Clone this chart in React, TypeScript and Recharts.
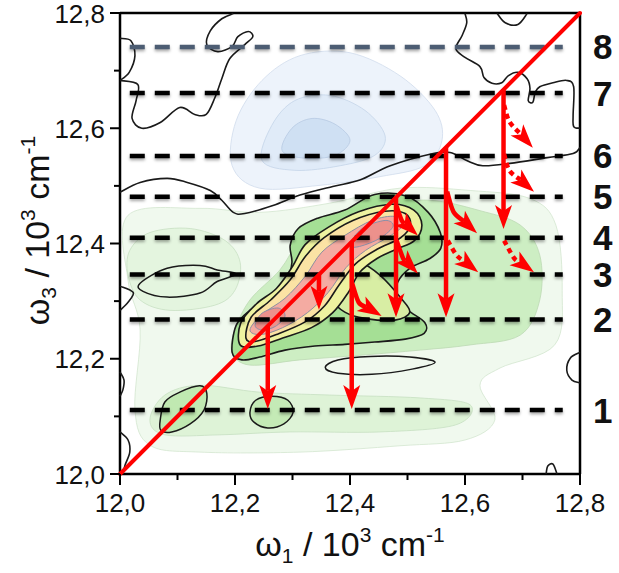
import { Scatter, ScatterChart, XAxis, YAxis } from 'recharts'

type Pair = [number, number]
type Px = { x: number; y: number }

const FONT = '"Liberation Sans", Arial, sans-serif'
const RED = '#ff0000'
const INK = '#1a1a1a'

// axis ticks (every 0.1, labelled every 0.2)
const axisTicks = [12, 12.1, 12.2, 12.3, 12.4, 12.5, 12.6, 12.7, 12.8]

// horizontal dashed levels and their names
const levelNames = ['1', '2', '3', '4', '5', '6', '7', '8']
const levelValues = [12.111, 12.268, 12.346, 12.41, 12.481, 12.552, 12.661, 12.741]
const levelSpan: Pair = [12.017, 12.77]

const diagonal: Pair[] = [[12, 12], [12.8, 12.8]]

// filled contour levels (omega1, omega3)
const greenHaze: Pair[] = [
  [12.014, 12.449], [12.139, 12.461], [12.243, 12.454], [12.365, 12.47], [12.487, 12.496],
  [12.609, 12.492], [12.713, 12.478], [12.758, 12.432], [12.769, 12.319], [12.756, 12.224],
  [12.661, 12.184], [12.626, 12.154], [12.652, 12.094], [12.6, 12.059], [12.487, 12.049],
  [12.313, 12.038], [12.139, 12.038], [12.052, 12.05], [12.026, 12.111], [12.035, 12.25],
  [12.014, 12.336],
]
const blueOuter: Pair[] = [
  [12.195, 12.535], [12.202, 12.613], [12.247, 12.683], [12.313, 12.726], [12.4, 12.731],
  [12.487, 12.691], [12.548, 12.631], [12.56, 12.579], [12.53, 12.535], [12.452, 12.516],
  [12.348, 12.501], [12.243, 12.496],
]
const blueMid: Pair[] = [
  [12.247, 12.544], [12.264, 12.605], [12.304, 12.648], [12.365, 12.657], [12.426, 12.631],
  [12.461, 12.587], [12.443, 12.553], [12.383, 12.535], [12.304, 12.527],
]
const blueCore: Pair[] = [
  [12.282, 12.561], [12.299, 12.6], [12.334, 12.617], [12.374, 12.607], [12.4, 12.579],
  [12.374, 12.553], [12.322, 12.548],
]
const greenLow: Pair[] = [
  [12.052, 12.094], [12.078, 12.137], [12.139, 12.154], [12.243, 12.142], [12.365, 12.137],
  [12.522, 12.132], [12.609, 12.12], [12.583, 12.085], [12.452, 12.073], [12.296, 12.073],
  [12.174, 12.068], [12.078, 12.068],
]
const greenLeft: Pair[] = [
  [12.017, 12.388], [12.052, 12.419], [12.122, 12.426], [12.183, 12.405], [12.209, 12.367],
  [12.2, 12.319], [12.165, 12.293], [12.087, 12.284], [12.035, 12.302], [12.014, 12.345],
]
const greenRidge: Pair[] = [
  [12.2, 12.25], [12.226, 12.302], [12.278, 12.354], [12.313, 12.405], [12.365, 12.437],
  [12.452, 12.466], [12.539, 12.475], [12.626, 12.457], [12.696, 12.432], [12.73, 12.38],
  [12.73, 12.302], [12.696, 12.241], [12.609, 12.224], [12.522, 12.215], [12.417, 12.206],
  [12.313, 12.198], [12.226, 12.189], [12.195, 12.211],
]
const peakOuter: Pair[] = [
  [12.195, 12.211], [12.202, 12.258], [12.226, 12.284], [12.261, 12.307], [12.29, 12.336],
  [12.299, 12.367], [12.296, 12.397], [12.31, 12.426], [12.344, 12.444], [12.391, 12.458],
  [12.443, 12.485], [12.499, 12.482], [12.536, 12.454], [12.557, 12.419], [12.558, 12.392],
  [12.539, 12.374], [12.504, 12.357], [12.483, 12.333], [12.48, 12.305], [12.501, 12.284],
  [12.53, 12.263], [12.529, 12.244], [12.496, 12.234], [12.443, 12.229], [12.391, 12.225],
  [12.339, 12.222], [12.287, 12.215], [12.243, 12.203], [12.212, 12.198],
]
const peakLobe: Pair[] = [
  [12.37, 12.302], [12.369, 12.333], [12.386, 12.36], [12.417, 12.367], [12.452, 12.345],
  [12.487, 12.307], [12.504, 12.281], [12.478, 12.267], [12.426, 12.27], [12.391, 12.281],
]
const peakMid: Pair[] = [
  [12.209, 12.224], [12.21, 12.262], [12.237, 12.295], [12.272, 12.322], [12.3, 12.36],
  [12.322, 12.398], [12.362, 12.428], [12.415, 12.455], [12.473, 12.468], [12.511, 12.458],
  [12.525, 12.432], [12.512, 12.405], [12.48, 12.39], [12.447, 12.374], [12.417, 12.35],
  [12.397, 12.315], [12.37, 12.28], [12.333, 12.254], [12.283, 12.236], [12.24, 12.222],
]
const peakYellow: Pair[] = [
  [12.219, 12.236], [12.228, 12.272], [12.262, 12.302], [12.296, 12.337], [12.322, 12.377],
  [12.355, 12.41], [12.405, 12.44], [12.461, 12.456], [12.496, 12.452], [12.505, 12.432],
  [12.488, 12.41], [12.447, 12.39], [12.41, 12.365], [12.381, 12.328], [12.356, 12.292],
  [12.322, 12.264], [12.272, 12.242], [12.235, 12.23],
]
const peakPink: Pair[] = [
  [12.226, 12.25], [12.247, 12.277], [12.287, 12.305], [12.322, 12.343], [12.351, 12.385],
  [12.391, 12.414], [12.438, 12.44], [12.478, 12.447], [12.492, 12.432], [12.468, 12.412],
  [12.427, 12.388], [12.393, 12.358], [12.362, 12.315], [12.326, 12.28], [12.283, 12.254],
  [12.245, 12.242],
]
const peakCoreLow: Pair[] = [
  [12.235, 12.258], [12.247, 12.279], [12.275, 12.288], [12.287, 12.274], [12.27, 12.256],
  [12.247, 12.25],
]
const peakCoreHigh: Pair[] = [
  [12.4, 12.397], [12.421, 12.426], [12.461, 12.44], [12.475, 12.43], [12.452, 12.409],
  [12.417, 12.395],
]
const ellipseLeft: Pair[] = [
  [12.07, 12.094], [12.078, 12.125], [12.104, 12.142], [12.139, 12.153], [12.151, 12.14],
  [12.146, 12.111], [12.122, 12.087], [12.09, 12.073], [12.071, 12.076],
]
const ellipseMid: Pair[] = [
  [12.226, 12.107], [12.236, 12.128], [12.264, 12.135], [12.292, 12.128], [12.301, 12.107],
  [12.285, 12.087], [12.257, 12.08], [12.233, 12.09],
]
const thinLens: Pair[] = [
  [12.357, 12.185], [12.379, 12.198], [12.435, 12.204], [12.504, 12.203], [12.548, 12.194],
  [12.508, 12.182], [12.438, 12.173], [12.379, 12.175],
]
const leftLoop: Pair[] = [
  [12.035, 12.331], [12.082, 12.357], [12.139, 12.362], [12.169, 12.354], [12.202, 12.347],
  [12.169, 12.334], [12.139, 12.314], [12.082, 12.307], [12.04, 12.317],
]

// open black contour lines
const topLeftA: Pair[] = [[12, 12.756], [12.019, 12.752], [12.026, 12.726], [12.016, 12.697], [12, 12.683]]
const topLeftB: Pair[] = [
  [12, 12.683], [12.031, 12.676], [12.028, 12.648], [12.021, 12.617], [12.038, 12.6],
  [12.07, 12.61], [12.104, 12.636], [12.13, 12.624], [12.15, 12.624], [12.165, 12.653],
  [12.177, 12.686], [12.191, 12.721], [12.217, 12.745], [12.231, 12.759], [12.223, 12.768],
  [12.205, 12.759], [12.195, 12.742], [12.17, 12.733], [12.151, 12.745], [12.157, 12.769],
  [12.177, 12.79], [12.197, 12.799],
]
const topRight: Pair[] = [
  [12.6, 12.799], [12.603, 12.783], [12.595, 12.761], [12.584, 12.738], [12.6, 12.723],
  [12.626, 12.707], [12.633, 12.688], [12.647, 12.678], [12.664, 12.679], [12.675, 12.691],
  [12.692, 12.697], [12.708, 12.686], [12.713, 12.669], [12.71, 12.648], [12.718, 12.645],
  [12.722, 12.662], [12.73, 12.672], [12.753, 12.679], [12.777, 12.683], [12.789, 12.672],
  [12.788, 12.622], [12.789, 12.603], [12.8, 12.6],
]
const topBump: Pair[] = [[12.656, 12.799], [12.67, 12.783], [12.692, 12.78], [12.708, 12.799]]
const divider: Pair[] = [
  [12, 12.489], [12.035, 12.506], [12.082, 12.513], [12.117, 12.506], [12.157, 12.492],
  [12.177, 12.475], [12.197, 12.454], [12.217, 12.452], [12.266, 12.466], [12.313, 12.484],
  [12.37, 12.499], [12.417, 12.51], [12.47, 12.535], [12.539, 12.555], [12.574, 12.558],
  [12.603, 12.544], [12.631, 12.535], [12.678, 12.539], [12.743, 12.549], [12.788, 12.556],
  [12.8, 12.567],
]
const leftBumpHigh: Pair[] = [[12, 12.326], [12.023, 12.315], [12.014, 12.298], [12, 12.284]]
const leftBumpMid: Pair[] = [[12, 12.177], [12.007, 12.163], [12.005, 12.146], [12, 12.135]]
const leftBumpLow: Pair[] = [[12, 12.073], [12.014, 12.059], [12.017, 12.038], [12.009, 12.016], [12.005, 12]]
const rightBump: Pair[] = [[12.8, 12.211], [12.783, 12.201], [12.777, 12.18], [12.786, 12.163], [12.8, 12.158]]
const bottomBump: Pair[] = [[12.741, 12], [12.744, 12.014], [12.753, 12.017], [12.76, 12]]

// red transfer arrows (start ... tip)
const arrowsSolid: Pair[][] = [
  [[12.257, 12.257], [12.257, 12.113]],
  [[12.346, 12.346], [12.346, 12.285]],
  [[12.403, 12.403], [12.403, 12.113]],
  [[12.404, 12.33], [12.415, 12.298], [12.455, 12.274]],
  [[12.48, 12.48], [12.48, 12.272]],
  [[12.481, 12.465], [12.49, 12.44], [12.518, 12.414]],
  [[12.481, 12.405], [12.492, 12.375], [12.518, 12.348]],
  [[12.567, 12.567], [12.567, 12.272]],
  [[12.569, 12.49], [12.58, 12.455], [12.621, 12.418]],
  [[12.667, 12.667], [12.667, 12.425]],
]
const arrowsDotted: Pair[][] = [
  [[12.57, 12.405], [12.585, 12.38], [12.623, 12.35]],
  [[12.668, 12.64], [12.677, 12.612], [12.718, 12.566]],
  [[12.668, 12.555], [12.677, 12.527], [12.72, 12.49]],
  [[12.668, 12.405], [12.685, 12.375], [12.72, 12.35]],
]

const fillLayers = [
  { data: greenHaze, fill: '#f0f9ee', stroke: '#d3e6cf', width: 0.8 },
  { data: blueOuter, fill: '#edf3fb', stroke: '#d0dcec', width: 0.8 },
  { data: blueMid, fill: '#e0ebf8', stroke: '#c4d4e8', width: 0.8 },
  { data: blueCore, fill: '#cfe0f3', stroke: '#b6c9e2', width: 0.8 },
  { data: greenLow, fill: '#def3d7', stroke: '#c6dfc1', width: 0.8 },
  { data: greenLeft, fill: '#e4f5df', stroke: '#c8e0c3', width: 0.8 },
  { data: greenRidge, fill: '#cdeec3', stroke: '#bcd9b4', width: 0.8 },
  { data: ellipseLeft, fill: '#c0e9b1', stroke: INK, width: 1.5 },
  { data: ellipseMid, fill: '#c4eab6', stroke: INK, width: 1.5 },
  { data: thinLens, fill: 'none', stroke: INK, width: 1.5 },
  { data: leftLoop, fill: 'none', stroke: INK, width: 1.5 },
  { data: peakOuter, fill: '#a5df95', stroke: INK, width: 1.6 },
  { data: peakLobe, fill: '#d8eea4', stroke: INK, width: 1.6 },
  { data: peakMid, fill: '#eef2a0', stroke: INK, width: 1.6 },
  { data: peakYellow, fill: '#fbe3a4', stroke: INK, width: 1.6 },
  { data: peakPink, fill: '#f4aba2', stroke: '#8b8fa0', width: 1 },
  { data: peakCoreLow, fill: '#ec918c', stroke: '#8a8fa8', width: 1 },
  { data: peakCoreHigh, fill: '#ec918c', stroke: '#8a8fa8', width: 1 },
]
const openLines = [topLeftA, topLeftB, topRight, topBump, divider, leftBumpHigh, leftBumpMid, leftBumpLow, rightBump, bottomBump]

const toXY = (pairs: Pair[]) => pairs.map(([x, y]) => ({ x, y }))

function smoothPath(pts: Px[], closed: boolean): string {
  const n = pts.length
  if (n < 2) return ''
  const at = (i: number) => (closed ? pts[(i + n) % n] : pts[Math.max(0, Math.min(n - 1, i))])
  let d = `M${pts[0].x},${pts[0].y}`
  const segs = closed ? n : n - 1
  for (let i = 0; i < segs; i++) {
    const p0 = at(i - 1)
    const p1 = at(i)
    const p2 = at(i + 1)
    const p3 = at(i + 2)
    const c1x = p1.x + (p2.x - p0.x) / 6
    const c1y = p1.y + (p2.y - p0.y) / 6
    const c2x = p2.x - (p3.x - p1.x) / 6
    const c2y = p2.y - (p3.y - p1.y) / 6
    d += ` C${c1x},${c1y} ${c2x},${c2y} ${p2.x},${p2.y}`
  }
  return closed ? d + 'Z' : d
}

const noDot = () => <g />

const contourLine = (fill: string, stroke: string, width: number, closed: boolean) =>
  (props: any) => (
    <path d={smoothPath(props.points, closed)} fill={fill} stroke={stroke} strokeWidth={width} />
  )

const levelLine = (name: string, color: string) => (props: any) => {
  const [a, b] = props.points
  return (
    <g>
      <path
        d={`M${a.x},${a.y}L${b.x},${b.y}`}
        stroke={color}
        strokeWidth={4.5}
        strokeDasharray="15 10"
        style={{ filter: 'drop-shadow(0px 2px 1.5px rgba(0,0,0,0.35))' }}
      />
      <text x={b.x + 40} y={b.y + 12.5} textAnchor="middle" fontFamily={FONT} fontWeight={700} fontSize={35} fill="#111">
        {name}
      </text>
    </g>
  )
}

const straightLine = (props: any) => {
  const [a, b] = props.points
  return <path d={`M${a.x},${a.y}L${b.x},${b.y}`} stroke={RED} strokeWidth={4} strokeLinecap="round" />
}

/** Shaft through the points, barbed head at the last point. */
const arrowLine = (dotted: boolean) => (props: any) => {
  const pts: Px[] = props.points
  const n = pts.length
  const tip = pts[n - 1]
  const prev = pts[n - 2]
  const len = Math.hypot(tip.x - prev.x, tip.y - prev.y) || 1
  const ux = (tip.x - prev.x) / len
  const uy = (tip.y - prev.y) / len
  const L = 24
  const W = 8.5
  const notch = 6
  const base = { x: tip.x - ux * (L - notch), y: tip.y - uy * (L - notch) }
  const bx = tip.x - ux * L
  const by = tip.y - uy * L
  const head = `M${tip.x},${tip.y}L${bx - uy * W},${by + ux * W}L${base.x},${base.y}L${bx + uy * W},${by - ux * W}Z`
  return (
    <g>
      <path
        d={smoothPath([...pts.slice(0, n - 1), base], false)}
        fill="none"
        stroke={RED}
        strokeWidth={4.5}
        strokeDasharray={dotted ? '5 4' : undefined}
      />
      <path d={head} fill={RED} />
    </g>
  )
}

const isMajor = (v: number) => Math.round(v * 10) % 2 === 0
const fmt = (v: number) => v.toFixed(1).replace('.', ',')

function BottomTick({ x, y, payload }: any) {
  const major = isMajor(payload.value)
  return (
    <g>
      <line x1={x} x2={x} y1={y} y2={y + (major ? 11 : 6)} stroke="#000" strokeWidth={2} />
      {major && (
        <text x={x} y={y + 38} textAnchor="middle" fontFamily={FONT} fontSize={26} fill="#111">
          {fmt(payload.value)}
        </text>
      )}
    </g>
  )
}

function LeftTick({ x, y, payload }: any) {
  const major = isMajor(payload.value)
  return (
    <g>
      <line x1={x} x2={x - (major ? 10 : 6)} y1={y} y2={y} stroke="#000" strokeWidth={2} />
      {major && (
        <text x={x - 15} y={y + 9.5} textAnchor="end" fontFamily={FONT} fontSize={26} fill="#111">
          {fmt(payload.value)}
        </text>
      )}
    </g>
  )
}

function TopTick({ x, y, payload }: any) {
  const major = isMajor(payload.value)
  return <line x1={x} x2={x} y1={y} y2={y + (major ? 9 : 6)} stroke="#000" strokeWidth={2} />
}

function RightTick({ x, y, payload }: any) {
  const major = isMajor(payload.value)
  return <line x1={x} x2={x - (major ? 8 : 5)} y1={y} y2={y} stroke="#000" strokeWidth={2} />
}

function XTitle(props: any) {
  const vb = props.viewBox ?? { x: 120, y: 474, width: 460, height: 99 }
  const cx = vb.x + vb.width / 2
  return (
    <text x={cx} y={vb.y + 82} textAnchor="middle" fontFamily={FONT} fontSize={34} fill="#111">
      ω<tspan fontSize={21} dy={7}>1</tspan>
      <tspan dy={-7}> / 10</tspan>
      <tspan fontSize={21} dy={-14}>3</tspan>
      <tspan dy={14}> cm</tspan>
      <tspan fontSize={21} dy={-14}>-1</tspan>
    </text>
  )
}

function YTitle(props: any) {
  const vb = props.viewBox ?? { x: 0, y: 13, width: 120, height: 461 }
  const tx = vb.x + 49
  const ty = vb.y + vb.height / 2 - 13
  return (
    <text x={tx} y={ty} transform={`rotate(-90 ${tx} ${ty})`} textAnchor="middle" fontFamily={FONT} fontSize={34} fill="#111">
      ω<tspan fontSize={21} dy={7}>3</tspan>
      <tspan dy={-7}> / 10</tspan>
      <tspan fontSize={21} dy={-14}>3</tspan>
      <tspan dy={14}> cm</tspan>
      <tspan fontSize={21} dy={-14}>-1</tspan>
    </text>
  )
}

const axisLine = { stroke: '#000', strokeWidth: 2.5 }
const domain: [number, number] = [12, 12.8]

export default function App() {
  return (
    <div style={{ position: 'absolute', left: 0, top: 0, width: 619, height: 573, background: '#fff' }}>
      <ScatterChart width={619} height={573} margin={{ top: 12, right: 38, bottom: 0, left: 0 }}>
        <XAxis
          type="number"
          dataKey="x"
          domain={domain}
          ticks={axisTicks}
          interval={0}
          height={99}
          tickSize={0}
          tickMargin={0}
          tickLine={false}
          axisLine={axisLine}
          tick={BottomTick}
          label={{ content: XTitle }}
        />
        <XAxis
          xAxisId="top"
          orientation="top"
          type="number"
          dataKey="x"
          domain={domain}
          ticks={axisTicks}
          interval={0}
          height={1}
          tickSize={0}
          tickMargin={0}
          tickLine={false}
          axisLine={axisLine}
          tick={TopTick}
        />
        <YAxis
          type="number"
          dataKey="y"
          domain={domain}
          ticks={axisTicks}
          interval={0}
          width={120}
          tickSize={0}
          tickMargin={0}
          tickLine={false}
          axisLine={axisLine}
          tick={LeftTick}
          label={{ content: YTitle }}
        />
        <YAxis
          yAxisId="right"
          orientation="right"
          type="number"
          dataKey="y"
          domain={domain}
          ticks={axisTicks}
          interval={0}
          width={1}
          tickSize={0}
          tickMargin={0}
          tickLine={false}
          axisLine={axisLine}
          tick={RightTick}
        />

        {fillLayers.map((layer, i) => (
          <Scatter
            key={`fill-${i}`}
            data={toXY(layer.data)}
            shape={noDot}
            line={contourLine(layer.fill, layer.stroke, layer.width, true)}
            isAnimationActive={false}
            legendType="none"
          />
        ))}
        {openLines.map((pts, i) => (
          <Scatter
            key={`open-${i}`}
            data={toXY(pts)}
            shape={noDot}
            line={contourLine('none', INK, 1.6, false)}
            isAnimationActive={false}
            legendType="none"
          />
        ))}
        {levelValues.map((v, i) => (
          <Scatter
            key={`level-${i}`}
            data={[{ x: levelSpan[0], y: v }, { x: levelSpan[1], y: v }]}
            shape={noDot}
            line={levelLine(levelNames[i], i === 7 ? '#4d5d73' : '#000')}
            isAnimationActive={false}
            legendType="none"
          />
        ))}
        <Scatter data={toXY(diagonal)} shape={noDot} line={straightLine} isAnimationActive={false} legendType="none" />
        {arrowsSolid.map((pts, i) => (
          <Scatter
            key={`arrow-${i}`}
            data={toXY(pts)}
            shape={noDot}
            line={arrowLine(false)}
            isAnimationActive={false}
            legendType="none"
          />
        ))}
        {arrowsDotted.map((pts, i) => (
          <Scatter
            key={`dotted-${i}`}
            data={toXY(pts)}
            shape={noDot}
            line={arrowLine(true)}
            isAnimationActive={false}
            legendType="none"
          />
        ))}
      </ScatterChart>
    </div>
  )
}
